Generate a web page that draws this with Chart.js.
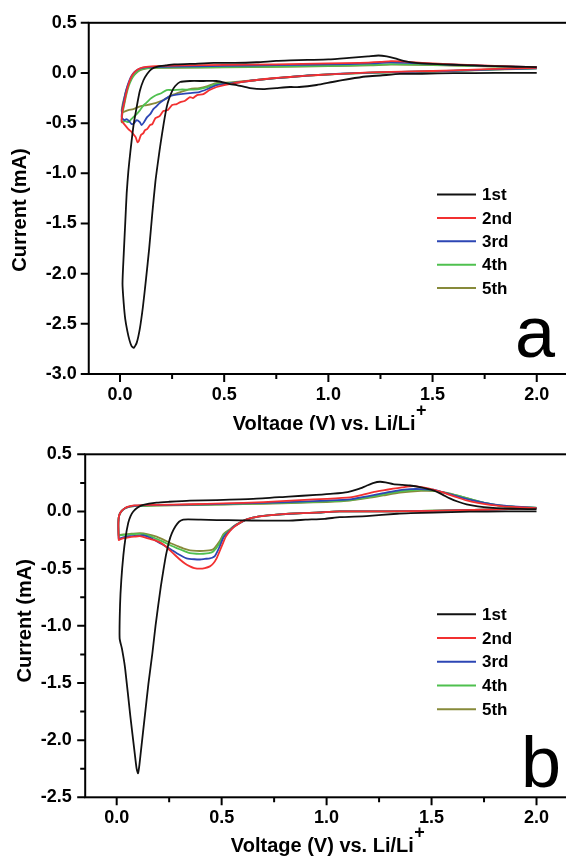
<!DOCTYPE html>
<html><head><meta charset="utf-8">
<script src="https://cdn.jsdelivr.net/npm/chart.js@4"></script>
<style>
html,body{margin:0;padding:0;background:#fff;overflow:hidden;width:566px;height:860px;position:relative}
.p{position:absolute;left:0;width:568px;height:430px}
#wa{top:0}#wb{top:430px}
canvas{display:block}
</style></head><body>
<div class="p" id="wa"><canvas id="ca" width="568" height="430"></canvas></div>
<div class="p" id="wb"><canvas id="cb" width="568" height="430"></canvas></div>
<script>
const cycleLabels = ['1st','2nd','3rd','4th','5th'];
const xTickValues = [0.0,0.5,1.0,1.5,2.0];
const xMinorValues = [0.25,0.75,1.25,1.75];
const yTickValuesA = [0.5,0.0,-0.5,-1.0,-1.5,-2.0,-2.5,-3.0];
const yTickValuesB = [0.5,0.0,-0.5,-1.0,-1.5,-2.0,-2.5];
const yMinorValuesB = [0.25,-0.25,-0.75,-1.25,-1.75,-2.25];

// Panel a : [voltage V, current mA] in sweep order
const a1st = [[2.0,0.0],[1.8,0.0],[1.6,-0.002],[1.45,-0.008],[1.344,-0.01],[1.25,-0.025],[1.18,-0.035],[1.1,-0.06],[1.02,-0.09],[0.944,-0.12],[0.86,-0.14],[0.816,-0.14],[0.75,-0.15],[0.688,-0.16],[0.624,-0.15],[0.56,-0.12],[0.528,-0.11],[0.464,-0.08],[0.4,-0.08],[0.336,-0.08],[0.288,-0.09],[0.265,-0.13],[0.25,-0.18],[0.235,-0.26],[0.224,-0.34],[0.21,-0.5],[0.195,-0.7],[0.184,-0.86],[0.17,-1.08],[0.155,-1.4],[0.14,-1.75],[0.125,-2.05],[0.11,-2.33],[0.095,-2.55],[0.08,-2.69],[0.066,-2.74],[0.055,-2.72],[0.045,-2.66],[0.035,-2.57],[0.025,-2.45],[0.018,-2.3],[0.012,-2.1],
  [0.018,-1.8],[0.025,-1.5],[0.032,-1.2],[0.04,-0.98],[0.05,-0.78],[0.065,-0.52],[0.08,-0.34],[0.095,-0.18],[0.112,-0.075],[0.13,-0.01],[0.152,0.04],[0.18,0.063],[0.22,0.075],[0.26,0.085],[0.336,0.09],[0.45,0.1],[0.55,0.1],[0.656,0.107],[0.75,0.12],[0.816,0.125],[0.9,0.13],[1.0,0.135],[1.1,0.15],[1.19,0.165],[1.24,0.174],[1.28,0.165],[1.32,0.145],[1.36,0.12],[1.42,0.1],[1.5,0.09],[1.6,0.082],[1.7,0.075],[1.8,0.068],[1.9,0.062],[2.0,0.058]];
const a2nd = [[2.0,0.05],[1.8,0.04],[1.6,0.025],[1.4,0.015],[1.2,0.005],[1.056,-0.008],[0.95,-0.02],[0.816,-0.04],[0.72,-0.055],[0.656,-0.07],[0.58,-0.09],[0.528,-0.11],[0.5,-0.12],[0.464,-0.14],[0.43,-0.17],[0.4,-0.21],[0.37,-0.22],[0.35,-0.25],[0.336,-0.24],[0.31,-0.28],[0.29,-0.29],[0.272,-0.31],[0.25,-0.32],[0.23,-0.37],[0.208,-0.38],[0.19,-0.43],[0.17,-0.45],[0.155,-0.51],[0.144,-0.52],[0.13,-0.56],[0.12,-0.57],[0.112,-0.6],[0.1,-0.62],[0.09,-0.68],[0.084,-0.69],[0.075,-0.64],[0.064,-0.61],[0.052,-0.58],[0.04,-0.56],[0.028,-0.53],[0.016,-0.5],[0.008,-0.48],
  [0.012,-0.38],[0.02,-0.3],[0.03,-0.2],[0.04,-0.12],[0.052,-0.05],[0.066,0.0],[0.085,0.035],[0.11,0.055],[0.15,0.065],[0.2,0.07],[0.3,0.075],[0.5,0.08],[0.75,0.085],[1.0,0.095],[1.15,0.1],[1.25,0.11],[1.3,0.118],[1.35,0.115],[1.45,0.1],[1.6,0.085],[1.8,0.07],[2.0,0.058]];
const a3rd = [[2.0,0.045],[1.8,0.035],[1.6,0.022],[1.4,0.012],[1.2,0.003],[1.056,-0.008],[0.9,-0.025],[0.816,-0.04],[0.656,-0.07],[0.58,-0.09],[0.528,-0.105],[0.464,-0.12],[0.42,-0.16],[0.38,-0.19],[0.336,-0.2],[0.29,-0.21],[0.24,-0.23],[0.21,-0.27],[0.19,-0.3],[0.176,-0.33],[0.16,-0.36],[0.145,-0.41],[0.13,-0.44],[0.115,-0.49],[0.104,-0.52],[0.095,-0.49],[0.08,-0.47],[0.068,-0.5],[0.056,-0.51],[0.044,-0.48],[0.032,-0.46],[0.02,-0.47],[0.008,-0.44],
  [0.012,-0.35],[0.02,-0.26],[0.03,-0.17],[0.042,-0.09],[0.055,-0.03],[0.07,0.01],[0.09,0.04],[0.12,0.055],[0.16,0.06],[0.25,0.063],[0.5,0.07],[0.75,0.078],[1.0,0.085],[1.2,0.095],[1.3,0.105],[1.4,0.098],[1.6,0.082],[1.8,0.068],[2.0,0.057]];
const a4th = [[2.0,0.045],[1.8,0.035],[1.6,0.02],[1.4,0.012],[1.2,0.002],[1.056,-0.01],[0.9,-0.025],[0.816,-0.04],[0.656,-0.07],[0.58,-0.09],[0.528,-0.1],[0.464,-0.11],[0.42,-0.14],[0.38,-0.16],[0.336,-0.165],[0.29,-0.165],[0.25,-0.17],[0.224,-0.17],[0.2,-0.2],[0.175,-0.22],[0.158,-0.24],[0.144,-0.26],[0.125,-0.3],[0.11,-0.33],[0.096,-0.37],[0.08,-0.41],[0.064,-0.44],[0.05,-0.47],[0.04,-0.49],[0.025,-0.48],[0.008,-0.49],
  [0.012,-0.4],[0.02,-0.32],[0.03,-0.22],[0.042,-0.13],[0.056,-0.06],[0.072,-0.01],[0.09,0.025],[0.12,0.045],[0.16,0.052],[0.25,0.055],[0.5,0.058],[0.75,0.064],[1.0,0.072],[1.2,0.08],[1.3,0.088],[1.4,0.085],[1.6,0.075],[1.8,0.065],[2.0,0.056]];
const a5th = [[2.0,0.045],[1.8,0.034],[1.6,0.02],[1.4,0.01],[1.2,0.0],[1.056,-0.01],[0.9,-0.026],[0.816,-0.04],[0.656,-0.07],[0.58,-0.085],[0.528,-0.095],[0.464,-0.1],[0.42,-0.13],[0.38,-0.15],[0.336,-0.16],[0.29,-0.19],[0.25,-0.22],[0.208,-0.27],[0.17,-0.3],[0.128,-0.32],[0.1,-0.33],[0.064,-0.36],[0.04,-0.37],[0.016,-0.39],[0.008,-0.38],
  [0.012,-0.32],[0.02,-0.25],[0.03,-0.17],[0.045,-0.09],[0.06,-0.04],[0.078,0.0],[0.1,0.03],[0.13,0.045],[0.17,0.05],[0.25,0.052],[0.5,0.055],[0.75,0.06],[1.0,0.068],[1.2,0.076],[1.3,0.083],[1.4,0.082],[1.6,0.073],[1.8,0.064],[2.0,0.055]];

// Panel b
const b1st = [[2.0,0.0],[1.85,0.0],[1.68,-0.002],[1.508,-0.01],[1.4,-0.015],[1.336,-0.02],[1.19,-0.04],[1.063,-0.05],[0.992,-0.064],[0.9,-0.072],[0.82,-0.08],[0.7,-0.08],[0.587,-0.078],[0.477,-0.075],[0.4,-0.072],[0.34,-0.07],[0.317,-0.072],[0.297,-0.09],[0.28,-0.13],[0.263,-0.19],[0.25,-0.26],[0.235,-0.38],[0.222,-0.52],[0.21,-0.66],[0.198,-0.82],[0.185,-1.0],[0.17,-1.24],[0.151,-1.51],[0.134,-1.79],[0.117,-2.07],[0.108,-2.22],[0.102,-2.29],[0.095,-2.25],[0.085,-2.1],[0.065,-1.79],[0.04,-1.37],[0.025,-1.2],[0.014,-1.11],
  [0.016,-0.82],[0.022,-0.6],[0.032,-0.38],[0.042,-0.23],[0.055,-0.1],[0.066,-0.04],[0.079,0.0],[0.1,0.035],[0.127,0.057],[0.19,0.077],[0.25,0.085],[0.349,0.095],[0.477,0.1],[0.65,0.11],[0.82,0.13],[0.95,0.145],[1.031,0.156],[1.1,0.17],[1.15,0.195],[1.19,0.225],[1.225,0.25],[1.254,0.26],[1.28,0.255],[1.317,0.24],[1.36,0.232],[1.397,0.227],[1.45,0.21],[1.508,0.184],[1.55,0.15],[1.587,0.114],[1.627,0.085],[1.667,0.063],[1.72,0.045],[1.78,0.033],[1.85,0.026],[1.92,0.022],[2.0,0.02]];
const b2nd = [[2.0,0.028],[1.9,0.022],[1.7,0.013],[1.5,0.006],[1.3,0.0],[1.063,0.0],[0.95,-0.01],[0.825,-0.019],[0.75,-0.03],[0.667,-0.047],[0.62,-0.07],[0.587,-0.1],[0.56,-0.135],[0.54,-0.17],[0.52,-0.22],[0.508,-0.27],[0.49,-0.35],[0.476,-0.41],[0.46,-0.455],[0.444,-0.48],[0.42,-0.495],[0.397,-0.5],[0.37,-0.495],[0.349,-0.48],[0.325,-0.455],[0.301,-0.42],[0.28,-0.385],[0.254,-0.34],[0.23,-0.3],[0.206,-0.27],[0.18,-0.25],[0.159,-0.24],[0.13,-0.225],[0.111,-0.216],[0.085,-0.22],[0.063,-0.224],[0.04,-0.232],[0.016,-0.245],[0.01,-0.25],
  [0.008,-0.15],[0.008,-0.1],[0.01,-0.05],[0.015,-0.02],[0.024,0.005],[0.036,0.025],[0.048,0.038],[0.065,0.047],[0.085,0.053],[0.12,0.056],[0.19,0.058],[0.35,0.063],[0.508,0.07],[0.7,0.082],[0.873,0.1],[1.0,0.11],[1.111,0.123],[1.17,0.145],[1.222,0.17],[1.27,0.185],[1.317,0.199],[1.36,0.21],[1.412,0.221],[1.46,0.21],[1.508,0.192],[1.55,0.17],[1.587,0.145],[1.627,0.12],[1.667,0.096],[1.72,0.075],[1.778,0.058],[1.84,0.045],[1.905,0.038],[2.0,0.03]];
const b3rd = [[2.0,0.028],[1.9,0.022],[1.7,0.013],[1.5,0.006],[1.3,0.0],[1.063,0.0],[0.95,-0.01],[0.825,-0.02],[0.75,-0.03],[0.667,-0.047],[0.62,-0.07],[0.587,-0.1],[0.56,-0.13],[0.54,-0.165],[0.52,-0.2],[0.508,-0.23],[0.49,-0.31],[0.468,-0.39],[0.455,-0.405],[0.444,-0.41],[0.42,-0.415],[0.397,-0.42],[0.37,-0.418],[0.333,-0.41],[0.31,-0.39],[0.286,-0.365],[0.26,-0.335],[0.238,-0.31],[0.215,-0.285],[0.19,-0.26],[0.16,-0.23],[0.127,-0.21],[0.095,-0.213],[0.063,-0.216],[0.04,-0.222],[0.016,-0.235],[0.01,-0.24],
  [0.008,-0.15],[0.008,-0.1],[0.01,-0.05],[0.015,-0.02],[0.024,0.005],[0.036,0.024],[0.048,0.036],[0.065,0.045],[0.085,0.05],[0.12,0.053],[0.19,0.056],[0.35,0.06],[0.508,0.066],[0.7,0.075],[0.873,0.086],[1.0,0.095],[1.111,0.106],[1.2,0.135],[1.27,0.16],[1.33,0.18],[1.397,0.195],[1.45,0.196],[1.508,0.19],[1.56,0.165],[1.619,0.134],[1.68,0.103],[1.746,0.077],[1.82,0.055],[1.89,0.044],[2.0,0.032]];
const b4th = [[2.0,0.03],[1.9,0.024],[1.7,0.014],[1.5,0.007],[1.3,0.0],[1.063,0.0],[0.95,-0.01],[0.825,-0.02],[0.75,-0.03],[0.667,-0.047],[0.62,-0.07],[0.587,-0.1],[0.56,-0.13],[0.54,-0.16],[0.52,-0.19],[0.508,-0.21],[0.49,-0.28],[0.46,-0.35],[0.44,-0.365],[0.413,-0.37],[0.38,-0.37],[0.349,-0.365],[0.32,-0.345],[0.286,-0.32],[0.26,-0.3],[0.238,-0.28],[0.215,-0.26],[0.19,-0.24],[0.15,-0.21],[0.111,-0.196],[0.07,-0.2],[0.032,-0.205],[0.016,-0.21],[0.01,-0.215],
  [0.008,-0.14],[0.008,-0.09],[0.01,-0.05],[0.015,-0.02],[0.024,0.005],[0.036,0.024],[0.048,0.035],[0.065,0.044],[0.085,0.048],[0.12,0.05],[0.19,0.053],[0.35,0.057],[0.508,0.062],[0.7,0.07],[0.873,0.08],[1.0,0.088],[1.111,0.1],[1.2,0.125],[1.27,0.15],[1.35,0.175],[1.43,0.19],[1.5,0.185],[1.56,0.165],[1.62,0.14],[1.69,0.105],[1.76,0.072],[1.83,0.05],[1.9,0.04],[2.0,0.033]];
const b5th = [[2.0,0.03],[1.9,0.024],[1.7,0.014],[1.5,0.007],[1.3,0.0],[1.063,0.0],[0.95,-0.01],[0.825,-0.02],[0.75,-0.03],[0.667,-0.047],[0.62,-0.07],[0.587,-0.098],[0.56,-0.125],[0.54,-0.155],[0.52,-0.18],[0.508,-0.2],[0.49,-0.26],[0.46,-0.33],[0.44,-0.34],[0.413,-0.345],[0.38,-0.345],[0.349,-0.34],[0.32,-0.325],[0.286,-0.3],[0.26,-0.28],[0.238,-0.26],[0.215,-0.24],[0.19,-0.22],[0.15,-0.2],[0.111,-0.19],[0.07,-0.195],[0.032,-0.2],[0.016,-0.205],[0.01,-0.21],
  [0.008,-0.14],[0.008,-0.09],[0.01,-0.05],[0.015,-0.02],[0.024,0.005],[0.036,0.023],[0.048,0.034],[0.065,0.042],[0.085,0.046],[0.12,0.048],[0.19,0.051],[0.35,0.055],[0.508,0.06],[0.7,0.067],[0.873,0.075],[1.0,0.083],[1.111,0.095],[1.2,0.118],[1.27,0.14],[1.35,0.165],[1.45,0.18],[1.52,0.178],[1.58,0.16],[1.62,0.14],[1.69,0.105],[1.76,0.072],[1.83,0.05],[1.9,0.04],[2.0,0.032]];

const colors = ['#111111','#f23030','#2c46b4','#4fc04f','#878a3a'];
const FONT = '"Liberation Sans", Arial, Helvetica, sans-serif';

function toPts(arr){ return arr.map(p => ({x:p[0], y:p[1]})); }

function makePanel(id, series, c){
  const datasets = series.map((s,i) => ({
    label: cycleLabels[i], data: toPts(s), showLine: true, pointRadius: 0,
    borderColor: colors[i], borderWidth: 1.8, tension: 0.2, fill: false
  }));
  const decor = {
    id: 'decor',
    afterDraw(chart){
      const ctx = chart.ctx, a = chart.chartArea, xs = chart.scales.x, ys = chart.scales.y;
      ctx.save();
      ctx.strokeStyle = '#000'; ctx.lineWidth = 2;
      ctx.strokeRect(a.left, a.top, a.right - a.left, a.bottom - a.top);
      ctx.beginPath();
      xTickValues.forEach(v => { const p = xs.getPixelForValue(v); ctx.moveTo(p, a.bottom); ctx.lineTo(p, a.bottom + 8); });
      xMinorValues.forEach(v => { const p = xs.getPixelForValue(v); ctx.moveTo(p, a.bottom); ctx.lineTo(p, a.bottom + 5); });
      c.yTicks.forEach(v => { const p = ys.getPixelForValue(v); ctx.moveTo(a.left - 8, p); ctx.lineTo(a.left, p); });
      c.yMinor.forEach(v => { const p = ys.getPixelForValue(v); ctx.moveTo(a.left - 5, p); ctx.lineTo(a.left, p); });
      ctx.stroke();
      // legend
      ctx.font = 'bold 17px ' + FONT; ctx.textBaseline = 'middle'; ctx.textAlign = 'left';
      chart.data.datasets.forEach((d,i) => {
        const y = c.legY + i * c.legStep;
        ctx.strokeStyle = d.borderColor; ctx.lineWidth = 2;
        ctx.beginPath(); ctx.moveTo(437, y); ctx.lineTo(476, y); ctx.stroke();
        ctx.fillStyle = '#000'; ctx.fillText(d.label, 482, y + 1);
      });
      // panel letter
      ctx.font = '72px ' + FONT; ctx.textAlign = 'center'; ctx.textBaseline = 'alphabetic';
      ctx.fillText(c.letter, c.letterX, 357);
      // y title
      ctx.save();
      ctx.translate(c.yTitleX, c.yTitleY); ctx.rotate(-Math.PI/2);
      ctx.font = 'bold 20px ' + FONT; ctx.textAlign = 'center'; ctx.textBaseline = 'middle';
      ctx.fillText('Current (mA)', 0, 0);
      ctx.restore();
      // x title with superscript
      ctx.font = 'bold 20px ' + FONT; ctx.textAlign = 'left';
      const main = 'Voltage (V) vs. Li/Li';
      const w1 = ctx.measureText(main).width;
      ctx.font = 'bold 18px ' + FONT;
      const w2 = ctx.measureText('+').width;
      const cx = (a.left + a.right) / 2 + 1;
      const x0 = cx - (w1 + w2) / 2;
      ctx.font = 'bold 20px ' + FONT;
      ctx.fillText(main, x0, c.xTitleBase);
      ctx.font = 'bold 18px ' + FONT;
      ctx.fillText('+', x0 + w1 + 0.5, c.xTitleBase - 14);
      ctx.restore();
    }
  };
  return new Chart(document.getElementById(id), {
    type: 'scatter',
    data: { datasets },
    options: {
      responsive: false, animation: false, devicePixelRatio: 1,
      layout: { padding: { top: c.top, left: 0, right: 0, bottom: 0 } },
      plugins: { legend: { display: false }, tooltip: { enabled: false }, title: { display: false } },
      scales: {
        x: {
          type: 'linear', position: 'bottom', min: -0.15, max: 2.15,
          afterBuildTicks: s => { s.ticks = xTickValues.map(v => ({value: v})); },
          afterFit: s => { s.height = c.xAxisH; },
          grid: { display: false, drawTicks: false }, border: { display: false },
          ticks: { autoSkip: false, maxRotation: 0, padding: c.xPad, color: '#000',
            font: { family: FONT, size: 18, weight: 'bold' }, callback: v => Number(v).toFixed(1) }
        },
        y: {
          type: 'linear', position: 'left', min: c.yMin, max: c.yMax,
          afterBuildTicks: s => { s.ticks = c.yTicks.map(v => ({value: v})); },
          afterFit: s => { s.width = c.yAxisW; },
          grid: { display: false, drawTicks: false }, border: { display: false },
          ticks: { autoSkip: false, padding: c.yPad, color: '#000',
            font: { family: FONT, size: 18, weight: 'bold' }, callback: v => Number(v).toFixed(1) }
        }
      }
    },
    plugins: [decor]
  });
}

makePanel('ca', [a1st,a2nd,a3rd,a4th,a5th], {
  top: 22.7, yAxisW: 88.75, xAxisH: 430 - 374, yMin: -3.0, yMax: 0.5,
  yTicks: yTickValuesA, yMinor: [], xPad: 10, yPad: 12,
  legY: 194.5, legStep: 23.4, letter: 'a', letterX: 535,
  yTitleX: 20, yTitleY: 210, xTitleBase: 430.3
});
makePanel('cb', [b1st,b2nd,b3rd,b4th,b5th], {
  top: 12.7, yAxisW: 85.2, xAxisH: 430 - 367.3, yMin: -2.5, yMax: 0.5,
  yTicks: yTickValuesB, yMinor: yMinorValuesB, xPad: 10, yPad: 13.5,
  legY: 184.3, legStep: 23.75, letter: 'b', letterX: 541,
  yTitleX: 25, yTitleY: 190.8, xTitleBase: 421.8
});
</script>
</body></html>
